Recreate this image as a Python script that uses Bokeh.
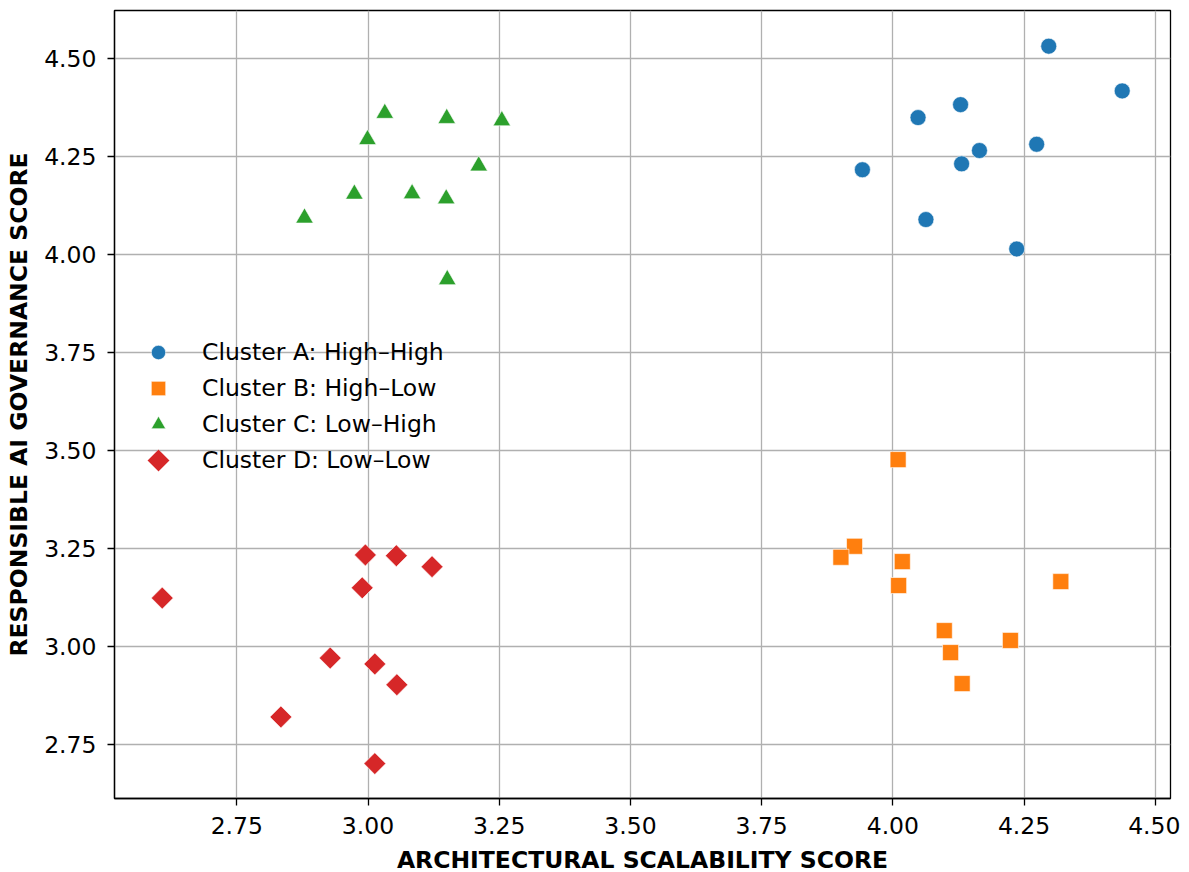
import math
from bokeh.plotting import figure
from bokeh.models import (Range1d, FixedTicker, PrintfTickFormatter, Legend, LegendItem,
                          PolyAnnotation)
from bokeh.embed import file_html
from bokeh.resources import INLINE

# ---- data ----
series_names = ["Cluster A: High\u2013High", "Cluster B: High\u2013Low",
                "Cluster C: Low\u2013High", "Cluster D: Low\u2013Low"]

a_x = [4.297, 4.437, 4.129, 4.048, 4.165, 4.274, 4.131, 3.942, 4.063, 4.236]
a_y = [4.531, 4.417, 4.382, 4.349, 4.265, 4.281, 4.231, 4.216, 4.089, 4.014]

b_x = [4.010, 3.927, 3.901, 4.018, 4.011, 4.320, 4.098, 4.224, 4.110, 4.132]
b_y = [3.477, 3.256, 3.228, 3.217, 3.156, 3.166, 3.041, 3.016, 2.985, 2.906]

c_x = [3.032, 3.150, 3.255, 2.999, 3.211, 2.974, 3.084, 3.149, 2.879, 3.151]
c_y = [4.360, 4.347, 4.341, 4.293, 4.226, 4.154, 4.155, 4.142, 4.093, 3.936]

d_x = [2.608, 2.995, 3.054, 3.122, 2.989, 2.928, 3.013, 3.055, 2.834, 3.013]
d_y = [3.124, 3.234, 3.232, 3.204, 3.150, 2.971, 2.956, 2.903, 2.821, 2.702]

x_ticks = [2.75, 3.00, 3.25, 3.50, 3.75, 4.00, 4.25, 4.50]
y_ticks = [2.75, 3.00, 3.25, 3.50, 3.75, 4.00, 4.25, 4.50]

x_label = "ARCHITECTURAL SCALABILITY SCORE"
y_label = "RESPONSIBLE AI GOVERNANCE SCORE"

colors = ["#1f77b4", "#ff7f0e", "#2ca02c", "#d62728"]

FONT = "DejaVu Sans"
FS = "23.5px"

# layout
FRAME_W, FRAME_H = 1056, 788
BORDER_L, BORDER_T, BORDER_R, BORDER_B = 114, 10, 10, 66

p = figure(
    frame_width=FRAME_W, frame_height=FRAME_H,
    x_range=Range1d(2.517, 4.529), y_range=Range1d(2.613, 4.622),
    output_backend="svg", toolbar_location=None,
    min_border_left=BORDER_L, min_border_top=BORDER_T,
    min_border_right=BORDER_R, min_border_bottom=BORDER_B,
    background_fill_color="white", border_fill_color="white",
)

p.outline_line_color = "black"
p.outline_line_width = 1.3
p.outline_line_alpha = 1.0

# grid
for g in (p.xgrid, p.ygrid):
    g.grid_line_color = "#b0b0b0"
    g.grid_line_width = 1.3
p.xgrid.ticker = FixedTicker(ticks=x_ticks)
p.ygrid.ticker = FixedTicker(ticks=y_ticks)

# axes
p.xaxis.ticker = FixedTicker(ticks=x_ticks)
p.yaxis.ticker = FixedTicker(ticks=y_ticks)
for ax in (p.xaxis[0], p.yaxis[0]):
    ax.formatter = PrintfTickFormatter(format="%.2f")
    ax.major_label_text_font = FONT
    ax.major_label_text_font_size = FS
    ax.major_label_text_color = "black"
    ax.axis_label_text_font = FONT
    ax.axis_label_text_font_size = FS
    ax.axis_label_text_font_style = "bold"
    ax.axis_label_text_color = "black"
    ax.major_tick_out = 7
    ax.major_tick_in = 0
    ax.major_tick_line_color = "black"
    ax.major_tick_line_width = 1.3
    ax.minor_tick_line_color = None
    ax.axis_line_color = "black"
    ax.axis_line_width = 1.3
    ax.major_label_standoff = 11

p.xaxis.axis_label = x_label
p.yaxis.axis_label = y_label
p.xaxis.axis_label_standoff = 9
p.yaxis.axis_label_standoff = 8

common = dict(line_color="white", line_width=0.6, fill_alpha=1.0)
r_a = p.scatter(a_x, a_y, marker="circle", size=16, fill_color=colors[0], **common)
r_b = p.scatter(b_x, b_y, marker="square", size=16, fill_color=colors[1], **common)
r_c = p.scatter(c_x, c_y, marker="triangle", size=17.5, fill_color=colors[2], **common)
r_d = p.scatter(d_x, d_y, marker="square", size=15.5, angle=math.pi / 4,
                fill_color=colors[3], **common)
# invisible proxy for the diamond legend key (legend ignores marker angle)
r_d_key = p.scatter(d_x, d_y, marker="square", size=15.5, fill_alpha=0, line_alpha=0)

# legend
LEG_X, LEG_Y = 24, 320
GLYPH_W, ROW_H = 40, 36
legend = Legend(
    items=[LegendItem(label=series_names[i], renderers=[r])
           for i, r in enumerate([r_a, r_b, r_c, r_d_key])],
    location=(LEG_X, LEG_Y),
    glyph_width=GLYPH_W, glyph_height=ROW_H, label_height=ROW_H, spacing=0,
    label_standoff=24, padding=0, margin=0,
    label_text_font=FONT, label_text_font_size=FS, label_text_color="black",
    border_line_color=None, background_fill_alpha=0.0,
)
p.add_layout(legend, "center")

# diamond legend key at the last legend row
# (annotation screen units: x from frame left, y up from frame bottom)
kx = LEG_X + GLYPH_W / 2
ky = LEG_Y + ROW_H / 2
hd = 11
p.add_layout(PolyAnnotation(
    xs=[kx - hd, kx, kx + hd, kx], ys=[ky, ky + hd, ky, ky - hd],
    xs_units="screen", ys_units="screen",
    fill_color=colors[3], fill_alpha=1.0, line_color="white", line_width=0.6,
))

open("out.html", "w").write(file_html(p, INLINE))
